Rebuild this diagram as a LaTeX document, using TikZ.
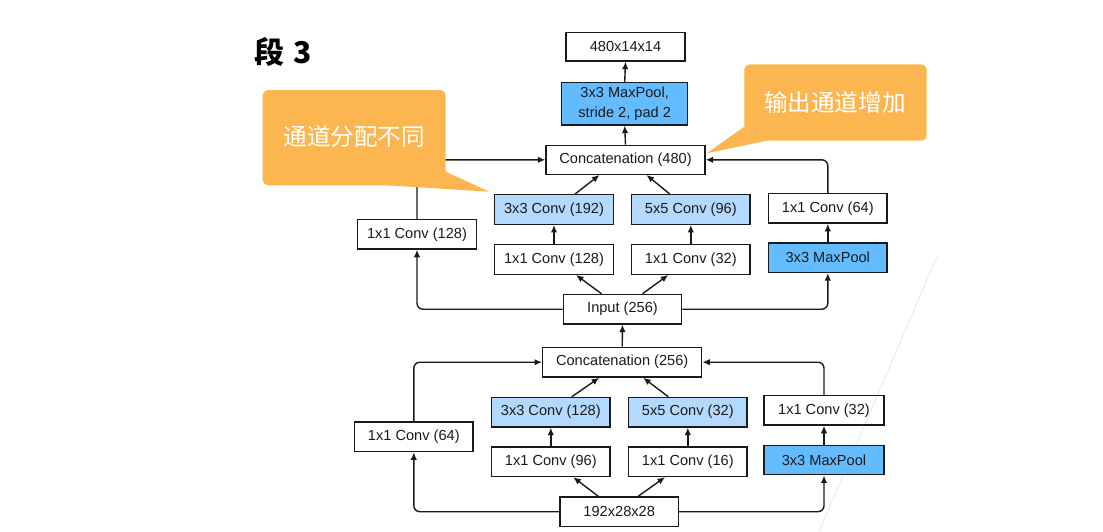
\documentclass[tikz,border=0pt]{standalone}
\usepackage{fontspec}
\setmainfont{Liberation Sans}
\newfontfamily\cjk{Noto Sans CJK SC}
\usetikzlibrary{arrows.meta,calc}
\definecolor{lblue}{RGB}{179,217,255}
\definecolor{mblue}{RGB}{99,188,255}
\definecolor{callout}{RGB}{251,182,80}
\definecolor{ink}{RGB}{26,26,26}
\tikzset{
  box/.style={draw=ink, line width=1.4pt, minimum width=118.5pt, minimum height=29.5pt,
    inner sep=0pt, font=\fontsize{14.6}{19.3}\selectfont, text=ink, align=center},
  lbox/.style={box, fill=lblue},
  mbox/.style={box, fill=mblue},
  arr/.style={draw=ink, line width=1.4pt, -{Latex[length=7.5pt,width=6.5pt]}},
  elbow/.style={arr, rounded corners=6pt},
  calloutbg/.style={fill=callout, draw=none},
  callouttext/.style={text=white, font=\cjk\fontsize{23.6}{26}\selectfont, inner sep=0pt}
}
\begin{document}
\begin{tikzpicture}[x=1pt,y=-1pt]
\useasboundingbox (0,0) rectangle (1103,531);
% faint slide artefact
\draw[gray!18, line width=0.8pt] (936.7,256.7) -- (819.3,531);
% title
\node[inner sep=0pt, anchor=west, font=\cjk\bfseries\fontsize{30}{32}\selectfont] (title) at (254,52) {段\hspace{9pt}3};
% upper block
\node[box, minimum width=119pt, minimum height=28.3pt] (out) at (625.5,46.8) {480x14x14};
\node[mbox, minimum width=126pt, minimum height=42.3pt] (mp2) at (624.7,103.8) {3x3 MaxPool,\\stride 2, pad 2};
\node[box, minimum width=159pt, minimum height=29pt] (cat2) at (625.5,159.8) {Concatenation (480)};
\node[lbox] (c33a) at (554,209.5) {3x3 Conv (192)};
\node[lbox] (c55a) at (690.8,209.5) {5x5 Conv (96)};
\node[box] (p1a) at (827.8,208.3) {1x1 Conv (64)};
\node[box] (b1a) at (417,234.3) {1x1 Conv (128)};
\node[box] (r3a) at (554,259.5) {1x1 Conv (128)};
\node[box] (r5a) at (690.8,259.5) {1x1 Conv (32)};
\node[mbox] (mpa) at (827.8,257.7) {3x3 MaxPool};
\node[box] (inp) at (622.5,309.2) {Input (256)};
% lower block
\node[box, minimum width=159pt, minimum height=29.7pt] (cat1) at (622.2,362.2) {Concatenation (256)};
\node[lbox] (c33b) at (550.8,412.2) {3x3 Conv (128)};
\node[lbox] (c55b) at (687.8,412.2) {5x5 Conv (32)};
\node[box, minimum width=120pt] (p1b) at (824,410.3) {1x1 Conv (32)};
\node[box] (b1b) at (413.8,436.8) {1x1 Conv (64)};
\node[box] (r3b) at (550.8,461.8) {1x1 Conv (96)};
\node[box] (r5b) at (687.8,461.7) {1x1 Conv (16)};
\node[mbox, minimum width=120pt] (mpb) at (824,460) {3x3 MaxPool};
\node[box] (in0) at (619.2,511.7) {192x28x28};
% connectors upper
\draw[arr] (mp2.north) -- (out.south);
\draw[arr] (cat2.north) -- (mp2.south);
\draw[arr] ($(c33a.north)+(21,0)$) -- ($(cat2.south)+(-26,0)$);
\draw[arr] ($(c55a.north)+(-21,0)$) -- ($(cat2.south)+(21,0)$);
\draw[elbow] (b1a.north) |- (cat2.west);
\draw[elbow] (p1a.north) |- (cat2.east);
\draw[arr] (r3a.north) -- (c33a.south);
\draw[arr] (r5a.north) -- (c55a.south);
\draw[arr] (mpa.north) -- (p1a.south);
\draw[arr] ($(inp.north)+(-21,0)$) -- ($(r3a.south)+(22,0)$);
\draw[arr] ($(inp.north)+(20,0)$) -- ($(r5a.south)+(-22.5,0)$);
\draw[elbow] (inp.west) -| (b1a.south);
\draw[elbow] (inp.east) -| (mpa.south);
\draw[arr] (cat1.north) -- (inp.south);
% connectors lower
\draw[arr] ($(c33b.north)+(21,0)$) -- ($(cat1.south)+(-23,0)$);
\draw[arr] ($(c55b.north)+(-19.5,0)$) -- ($(cat1.south)+(21,0)$);
\draw[elbow] (b1b.north) |- (cat1.west);
\draw[elbow] (p1b.north) |- (cat1.east);
\draw[arr] (r3b.north) -- (c33b.south);
\draw[arr] (r5b.north) -- (c55b.south);
\draw[arr] (mpb.north) -- (p1b.south);
\draw[arr] ($(in0.north)+(-21,0)$) -- ($(r3b.south)+(22.5,0)$);
\draw[arr] ($(in0.north)+(19,0)$) -- ($(r5b.south)+(-22.8,0)$);
\draw[elbow] (in0.west) -| (b1b.south);
\draw[elbow] (in0.east) -| (mpb.south);
% callouts
\fill[calloutbg, rounded corners=6pt] (262.7,90) rectangle (445.7,185.3);
\fill[calloutbg] (445.7,171.7) -- (489.3,191.7) -- (386.7,185.3) -- (386.7,175) -- cycle;
\node[callouttext] (c1) at (354.2,136.7) {通道分配不同};
\fill[calloutbg, rounded corners=6pt] (744.3,64.3) rectangle (926.7,140.7);
\fill[calloutbg] (744.3,126.7) -- (706.7,153.3) -- (766.7,140.7) -- (760,128) -- cycle;
\node[callouttext] (c2) at (834.8,102.7) {输出通道增加};
\end{tikzpicture}
\end{document}
